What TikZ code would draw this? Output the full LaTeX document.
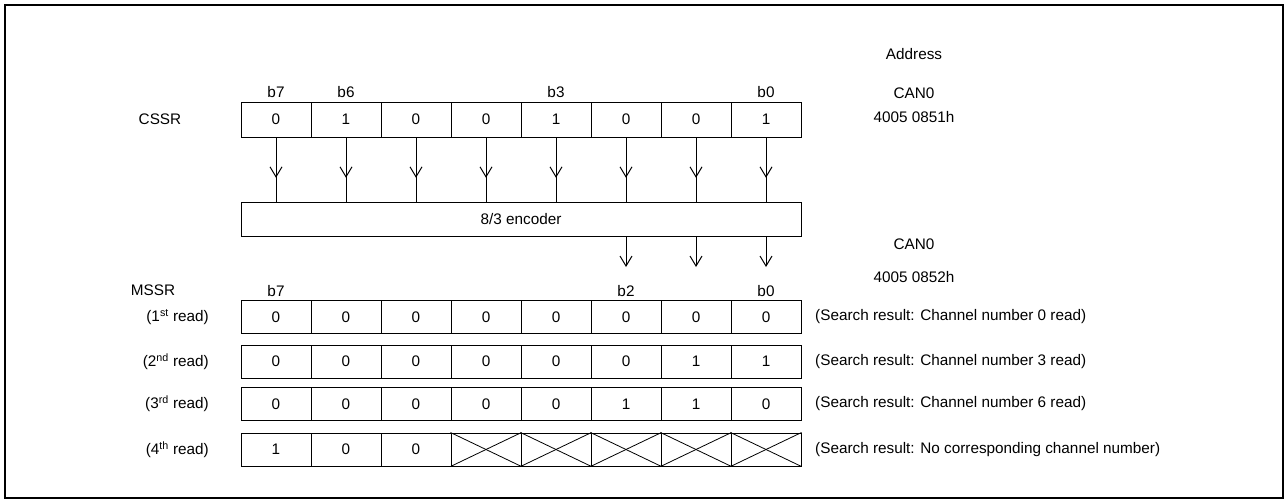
\documentclass[tikz,border=0pt]{standalone}
\usepackage{fontspec}
\setmainfont{Liberation Sans}
\usetikzlibrary{arrows.meta,decorations.markings}
\tikzset{
  cell/.style={draw, line width=1pt, minimum width=70pt, inner sep=0pt, anchor=center},
  lbl/.style={inner sep=0pt, font=\fontsize{15.3}{18}\selectfont},
  barb/.style={-{Straight Barb[length=10pt,width=12pt,line width=1pt]}, line width=1pt},
  midarrow/.style={line width=1pt, decoration={markings, mark=at position 0.63 with {\arrow{Straight Barb[length=10pt,width=12pt,line width=1pt]}}}, postaction={decorate}},
  xline/.style={line width=0.8pt}
}
\begin{document}
\begin{tikzpicture}[x=1pt,y=-1pt, font=\fontsize{15.3}{18}\selectfont]
\useasboundingbox (0,0) rectangle (1288,503);
\draw[line width=2.5pt] (5,5) rectangle (1283,498);

% CSSR
\foreach \v [count=\i] in {0,1,0,0,1,0,0,1} {
  \node[cell, minimum height=35pt] (c\i) at ({206+70*\i},119.5) {\v};
}
\node[cell, minimum width=560pt, minimum height=34pt] (enc) at (521,219) {8/3 encoder};
\foreach \i in {1,...,8} {
  \draw[midarrow] (c\i.south) -- (enc.north -| c\i);
}
\foreach \i in {6,7,8} {
  \coordinate (t\i) at ({206+70*\i},267);
  \draw[barb] (enc.south -| c\i) -- (t\i);
}

% labels top
\node[lbl] (cssr) at (160,119) {CSSR};
\node[lbl] (b7a) at (276,92) {b7};
\node[lbl] (b6a) at (346,92) {b6};
\node[lbl] (b3a) at (556,92) {b3};
\node[lbl] (b0a) at (766,92) {b0};
\node[lbl] (addr) at (914,54) {Address};
\node[lbl] (can1) at (914,93) {CAN0};
\node[lbl] (ad1) at (914,117) {4005 0851h};
\node[lbl] (can2) at (914,244) {CAN0};
\node[lbl] (ad2) at (914,277) {4005 0852h};

% MSSR
\node[lbl] (mssr) at (153,290) {MSSR};
\node[lbl] (b7b) at (276,291) {b7};
\node[lbl] (b2b) at (626,291) {b2};
\node[lbl] (b0b) at (766,291) {b0};

\foreach \row/\y/\vals in {1/317/{0,0,0,0,0,0,0,0}, 2/361.5/{0,0,0,0,0,0,1,1}, 3/404/{0,0,0,0,0,1,1,0}} {
  \foreach \v [count=\i] in \vals {
    \node[cell, minimum height=33pt] (r\row c\i) at ({206+70*\i},\y) {\v};
  }
}
\foreach \v [count=\i] in {1,0,0,{},{},{},{},{}} {
  \node[cell, minimum height=33pt] (r4c\i) at ({206+70*\i},449.5) {\v};
}
\foreach \i in {4,...,8} {
  \draw[xline] (r4c\i.north west) -- (r4c\i.south east);
  \draw[xline] (r4c\i.south west) -- (r4c\i.north east);
}

\node[lbl, anchor=east] (rd1) at (209,317) {(1\textsuperscript{st} read)};
\node[lbl, anchor=east] (rd2) at (209,361.5) {(2\textsuperscript{nd} read)};
\node[lbl, anchor=east] (rd3) at (209,404) {(3\textsuperscript{rd} read)};
\node[lbl, anchor=east] (rd4) at (209,449.5) {(4\textsuperscript{th} read)};

\node[lbl, anchor=west] (s1) at (815,317) {(Search result: Channel number 0 read)};
\node[lbl, anchor=west] (s2) at (815,361.5) {(Search result: Channel number 3 read)};
\node[lbl, anchor=west] (s3) at (815,404) {(Search result: Channel number 6 read)};
\node[lbl, anchor=west] (s4) at (815,449.5) {(Search result: No corresponding channel number)};
\end{tikzpicture}
\end{document}
